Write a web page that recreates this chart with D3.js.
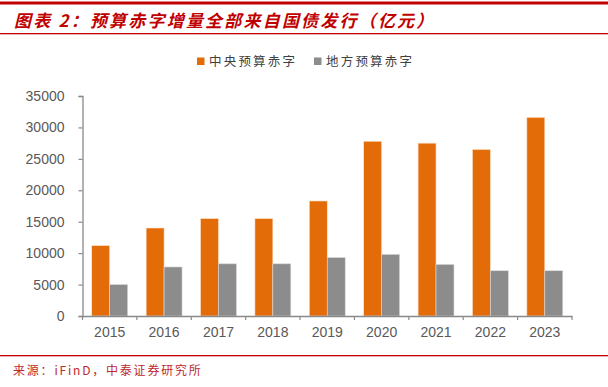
<!DOCTYPE html>
<html><head><meta charset="utf-8">
<script src="https://cdn.jsdelivr.net/npm/d3@7"></script>
<style>
html,body{margin:0;padding:0;background:#fff;}
svg{display:block;}
</style></head>
<body>
<svg id="chart" width="608" height="387"></svg>
<script>
const years = ["2015","2016","2017","2018","2019","2020","2021","2022","2023"];
const central = [11200,14000,15500,15500,18300,27800,27500,26500,31600];
const local = [5000,7800,8300,8300,9300,9800,8200,7200,7200];
const seriesNames = ["中央预算赤字","地方预算赤字"];
const yTicks = [0,5000,10000,15000,20000,25000,30000,35000];
const titleText = "图表 2：预算赤字增量全部来自国债发行（亿元）";
const sourceText = "来源：iFinD，中泰证券研究所";

(function(){
const colors = ["#E36C09","#8C8C8C"];
const svg = d3.select("#chart");
const red = "#C00000";

// header
svg.append("rect").attr("x",0).attr("y",1.5).attr("width",608).attr("height",3).attr("fill",red);
svg.append("rect").attr("x",0).attr("y",33).attr("width",608).attr("height",1.3).attr("fill",red);
svg.append("text").attr("x",14).attr("y",27)
  .attr("font-family","'Noto Sans CJK SC'").attr("font-size",17).attr("font-weight","bold")
  .attr("font-style","italic").attr("letter-spacing",2.2).attr("fill",red).text(titleText);

// footer
svg.append("rect").attr("x",0).attr("y",355).attr("width",608).attr("height",1.3).attr("fill",red);
svg.append("text").attr("x",13).attr("y",375)
  .attr("font-family","'Noto Sans CJK SC'").attr("font-size",12)
  .attr("letter-spacing",1.8).attr("fill","#C0282A").text(sourceText);

// scales
const mLeft = 82.5, mRight = 572, mTop = 96, mBottom = 316;
const x = d3.scaleBand().domain(years).range([mLeft,mRight]).padding(0);
const bw = x.bandwidth();
const xs = d3.scaleBand().domain([0,1]).range([bw*0.17, bw*0.83]).padding(0);
const y = d3.scaleLinear().domain([0,35000]).range([mBottom,mTop]);

// bars
const data = years.map((yr,i)=>({yr, vals:[central[i], local[i]]}));
const g = svg.append("g");
const grp = g.selectAll("g.yr").data(data).enter().append("g")
  .attr("transform",d=>`translate(${x(d.yr)},0)`);
grp.selectAll("rect").data(d=>d.vals.map((v,k)=>({v,k}))).enter().append("rect")
  .attr("x",d=>xs(d.k)).attr("width",xs.bandwidth())
  .attr("y",d=>y(d.v)).attr("height",d=>y(0)-y(d.v))
  .attr("fill",d=>colors[d.k]).attr("stroke",d=>d.k===0?"#fbe3d0":"#d8d8d8").attr("stroke-width",0.6);

// y axis
const yAxis = d3.axisLeft(y).tickValues(yTicks).tickSize(4).tickPadding(14).tickFormat(d3.format("d"));
const ya = svg.append("g").attr("transform",`translate(${mLeft},0)`).call(yAxis);
ya.select(".domain").attr("stroke","#898989").attr("stroke-width",1.3);
ya.selectAll(".tick line").attr("stroke","#898989").attr("stroke-width",1.2);
ya.selectAll("text").attr("font-family","'Liberation Sans', Arial").attr("font-size",14).attr("fill","#595959");

// x axis
const xAxis = d3.axisBottom(x).tickSize(0).tickPadding(11);
const xa = svg.append("g").attr("transform",`translate(0,${mBottom})`).call(xAxis);
xa.select(".domain").attr("stroke","#898989").attr("stroke-width",1.3);
xa.selectAll("text").attr("font-family","'Liberation Sans', Arial").attr("font-size",14).attr("fill","#595959");
const bounds = years.map(yr=>x(yr)).concat([x(years[years.length-1])+bw]);
xa.selectAll("line.bt").data(bounds).enter().append("line").attr("class","bt")
  .attr("x1",d=>d).attr("x2",d=>d).attr("y1",0).attr("y2",4)
  .attr("stroke","#898989").attr("stroke-width",1.2);

// legend
const leg = svg.append("g");
const legX = [197, 314];
seriesNames.forEach((n,i)=>{
  leg.append("rect").attr("x",legX[i]).attr("y",57.5).attr("width",7.5).attr("height",7.5).attr("fill",colors[i]);
  leg.append("text").attr("x",legX[i]+12).attr("y",66)
    .attr("font-family","'Noto Sans CJK SC'").attr("font-size",12.5).attr("letter-spacing",2.2)
    .attr("fill","#404040").text(n);
});
})();
</script>
</body></html>
